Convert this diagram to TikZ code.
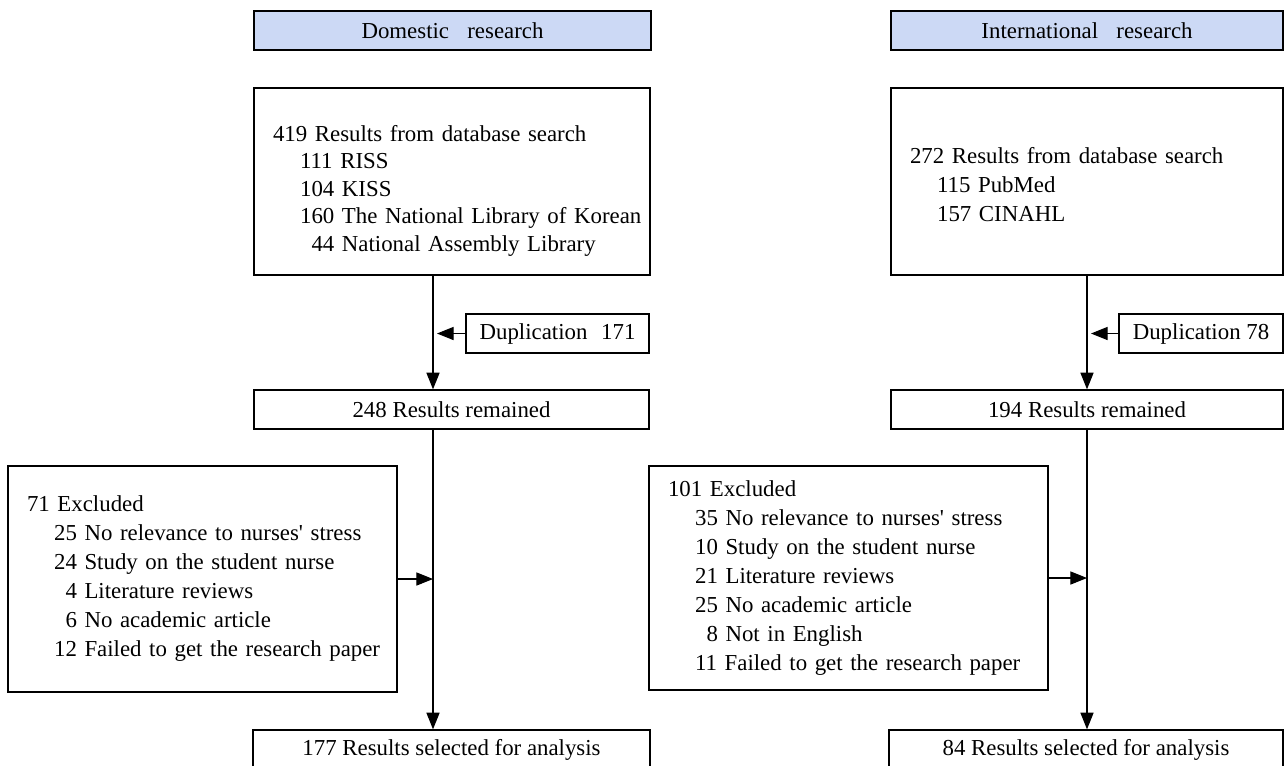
\documentclass[tikz,border=0pt]{standalone}
\usepackage{fontspec}
\setmainfont{Liberation Serif}
\usetikzlibrary{arrows.meta}
\usetikzlibrary{calc}
\definecolor{hdrblue}{RGB}{204,217,245}
\newcommand{\ind}{\hspace*{15.4pt}}
\newcommand{\dg}{\phantom{0}}

\begin{document}
\begin{tikzpicture}[x=0.02cm,y=-0.02cm,
    base/.style={draw, line width=0.8pt, font=\fontsize{13pt}{16.5pt}\selectfont, inner sep=0pt},
    hdr/.style={base, fill=hdrblue, minimum height=0.78cm},
    row/.style={base, minimum height=0.78cm},
    txtbox/.style={base, align=left, inner xsep=0.38cm},
    arr/.style={-{Triangle[length=9.5pt,width=7.5pt]}, line width=0.6pt}]
      \useasboundingbox (0,0) rectangle (1284,765);
      \node[hdr, minimum width=7.94cm] (hdrdom) at (452.5,30.5) {Domestic\hspace{0.8em}research};
      \node[hdr, minimum width=7.84cm] (hdrint) at (1087,30.5) {International\hspace{0.8em}research};
      \node[txtbox, text width=7.16cm, minimum height=3.74cm, font=\fontsize{13pt}{15.7pt}\selectfont] (dbdom) at (452,181.5)
        {\mbox{}\\[4pt]
         \mbox{419 Results from database search}\\
         \mbox{\ind 111 RISS}\\
         \mbox{\ind 104 KISS}\\
         \mbox{\ind 160 The National Library of Korean}\\
         \mbox{\ind\dg 44 National Assembly Library}};
      \node[txtbox, text width=7.08cm, minimum height=3.74cm] (dbint) at (1087,181.5)
        {\mbox{}\\[-4pt]
         \mbox{272 Results from database search}\\
         \mbox{\ind 115 PubMed}\\
         \mbox{\ind 157 CINAHL}};
      \node[row, minimum width=3.66cm] (dupdom) at (557.5,333.5) {Duplication\hspace{0.6em}171};
      \node[row, minimum width=3.28cm] (dupint) at (1201,333.5) {Duplication 78};
      \node[row, minimum width=7.90cm] (remdom) at (451.5,409.5) {248 Results remained};
      \node[row, minimum width=7.84cm] (remint) at (1087,409.5) {194 Results remained};
      \node[txtbox, text width=7.02cm, minimum height=4.52cm] (exdom) at (202.5,579)
        {\mbox{71 Excluded}\\
         \mbox{\ind 25 No relevance to nurses\textquotesingle{} stress}\\
         \mbox{\ind 24 Study on the student nurse}\\
         \mbox{\ind\dg 4 Literature reviews}\\
         \mbox{\ind\dg 6 No academic article}\\
         \mbox{\ind 12 Failed to get the research paper}};
      \node[txtbox, text width=7.22cm, minimum height=4.48cm] (exint) at (848.5,578)
        {\mbox{101 Excluded}\\
         \mbox{\ind 35 No relevance to nurses\textquotesingle{} stress}\\
         \mbox{\ind 10 Study on the student nurse}\\
         \mbox{\ind 21 Literature reviews}\\
         \mbox{\ind 25 No academic article}\\
         \mbox{\ind\dg 8 Not in English}\\
         \mbox{\ind 11 Failed to get the research paper}};
      \node[row, minimum width=7.94cm] (seldom) at (451.5,749.5) {177 Results selected for analysis};
      \node[row, minimum width=7.88cm] (selint) at (1086,749.5) {84 Results selected for analysis};
      \coordinate (spdom) at (433,0);
      \coordinate (spint) at (1087,0);
      \draw[arr] (dbdom.south -| spdom) -- (remdom.north -| spdom);
      \draw[arr] (dbint.south -| spint) -- (remint.north -| spint);
      \draw[arr] (dupdom.west) -- ($(dupdom.west -| spdom)+(4,0)$);
      \draw[arr] (dupint.west) -- ($(dupint.west -| spint)+(4,0)$);
      \draw[arr] (remdom.south -| spdom) -- (seldom.north -| spdom);
      \draw[arr] (remint.south -| spint) -- (selint.north -| spint);
      \draw[arr] (exdom.east) -- (exdom.east -| spdom);
      \draw[arr] (exint.east) -- (exint.east -| spint);
    \end{tikzpicture}
\end{document}
